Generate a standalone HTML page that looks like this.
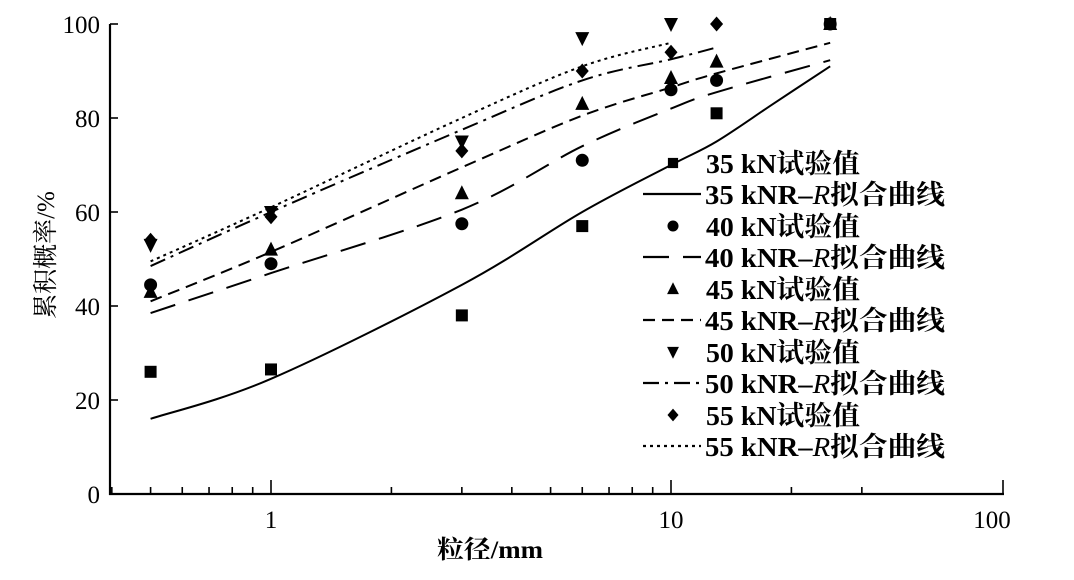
<!DOCTYPE html>
<html><head><meta charset="utf-8"><style>
body{margin:0;background:#fff}
svg{display:block}
text{font-family:"Liberation Serif","Noto Serif CJK SC",serif;fill:#000}
</style></head><body>
<svg id="s" width="1074" height="580" viewBox="0 0 1074 580" xmlns="http://www.w3.org/2000/svg">
<g stroke="#000" stroke-width="2.2" fill="none">
<line x1="110" y1="24" x2="110" y2="495"/>
<line x1="109" y1="494" x2="1004" y2="494"/>
</g>
<g id="ticks" stroke="#000" stroke-width="1.6"></g>
<g font-size="25" text-anchor="end">
<text x="100" y="503">0</text><text x="100" y="409">20</text><text x="100" y="315">40</text>
<text x="100" y="221">60</text><text x="100" y="127">80</text><text x="100" y="33">100</text>
</g>
<g font-size="25" text-anchor="middle">
<text x="271" y="528">1</text><text x="671" y="528">10</text><text x="992" y="528">100</text>
</g>
<text x="490" y="558" font-size="25" text-anchor="middle" font-weight="bold" textLength="106" lengthAdjust="spacingAndGlyphs">粒径/mm</text>
<text transform="translate(54,255) rotate(-90)" font-size="25" text-anchor="middle">累积概率/%</text>
<g id="curves" fill="none" stroke="#000" stroke-width="2"></g>
<g id="pts" fill="#000"></g>
<g id="leg" font-size="27" font-weight="bold"></g>
</svg>
<script>
const NS="http://www.w3.org/2000/svg";
const X=v=>271+400*Math.log10(v), Y=v=>494-4.7*v;
function el(p,t,a){const e=document.createElementNS(NS,t);for(const k in a)e.setAttribute(k,a[k]);document.getElementById(p).appendChild(e);return e;}
[0.4,0.5,0.6,0.7,0.8,0.9,1,2,3,4,5,6,7,8,9,10,20,30].forEach(v=>{const x=X(v);const big=(v==1||v==10);el("ticks","line",{x1:x,x2:x,y1:494,y2:big?480:487});});
el("ticks","line",{x1:1003,x2:1003,y1:494,y2:480});
[20,40,60,80,100].forEach(v=>el("ticks","line",{x1:110,x2:118,y1:Y(v),y2:Y(v)}));
function path(pts){const P=pts.map(p=>[X(p[0]),Y(p[1])]);let d="M"+P[0].join(",");
for(let i=0;i<P.length-1;i++){const p0=P[i-1]||P[i],p1=P[i],p2=P[i+1],p3=P[i+2]||p2;
const c1=[p1[0]+(p2[0]-p0[0])/6,p1[1]+(p2[1]-p0[1])/6],c2=[p2[0]-(p3[0]-p1[0])/6,p2[1]-(p3[1]-p1[1])/6];
d+=`C${c1} ${c2} ${p2}`;}return d;}
const L=25;
const curves=[
 {d:[[0.5,16],[1,24.5],[3,44.5],[6,60],[10,70],[13,75],[18,83],[L,91]],dash:""},
 {d:[[0.5,38.5],[1,47],[3,60.5],[6,74],[10,82],[13,85.5],[L,92.3]],dash:"26,14"},
 {d:[[0.5,41],[1,51.5],[3,69.5],[6,80.5],[10,86.5],[13,89.5],[L,96]],dash:"12,7"},
 {d:[[0.5,48.5],[1,60],[3,77.5],[6,88],[10,92.5],[13,95]],dash:"16,6,3,6"},
 {d:[[0.5,49.5],[1,61],[3,80],[6,91],[10,96]],dash:"3,4"}];
curves.forEach(c=>el("curves","path",{d:path(c.d),"stroke-dasharray":c.dash}));
function mk(type,x,y,s){s=s||1;
 if(type==0)el("pts","rect",{x:x-6*s,y:y-6*s,width:12*s,height:12*s});
 if(type==1)el("pts","circle",{cx:x,cy:y,r:6.5*s});
 if(type==2)el("pts","polygon",{points:`${x},${y-8*s} ${x-7*s},${y+6*s} ${x+7*s},${y+6*s}`});
 if(type==3)el("pts","polygon",{points:`${x},${y+8*s} ${x-7*s},${y-6*s} ${x+7*s},${y-6*s}`});
 if(type==4)el("pts","polygon",{points:`${x},${y-7.5*s} ${x-6.5*s},${y} ${x},${y+7.5*s} ${x+6.5*s},${y}`});}
const data=[
 [[0.5,26],[1,26.5],[3,38],[6,57],[13,81],[L,100]],
 [[0.5,44.5],[1,49],[3,57.5],[6,71],[10,86],[13,88],[L,100]],
 [[0.5,43],[1,52],[3,64],[6,83],[10,88.5],[13,92],[L,100]],
 [[0.5,53],[1,60],[3,75],[6,97],[10,100]],
 [[0.5,54],[1,59],[3,73],[6,90],[10,94],[13,100]]];
data.forEach((s,i)=>s.forEach(p=>mk(i,X(p[0]),Y(p[1]))));
const labs=["35","40","45","50","55"];
labs.forEach((l,i)=>{const y1=163+i*63,y2=194+i*63;
 mk(i,673,y1,0.85);
 let t=el("leg","text",{x:706,y:y1+10,textLength:154,lengthAdjust:"spacingAndGlyphs"});t.textContent=l+" kN试验值";
 el("leg","line",{x1:643,x2:701,y1:y2,y2:y2,stroke:"#000","stroke-width":2.2,"stroke-dasharray":curves[i].dash});
 t=el("leg","text",{x:705,y:y2+10,textLength:240,lengthAdjust:"spacingAndGlyphs"});t.innerHTML=l+" kNR–<tspan font-style=\"italic\" font-weight=\"normal\">R</tspan>拟合曲线";
});
</script>
</body></html>
